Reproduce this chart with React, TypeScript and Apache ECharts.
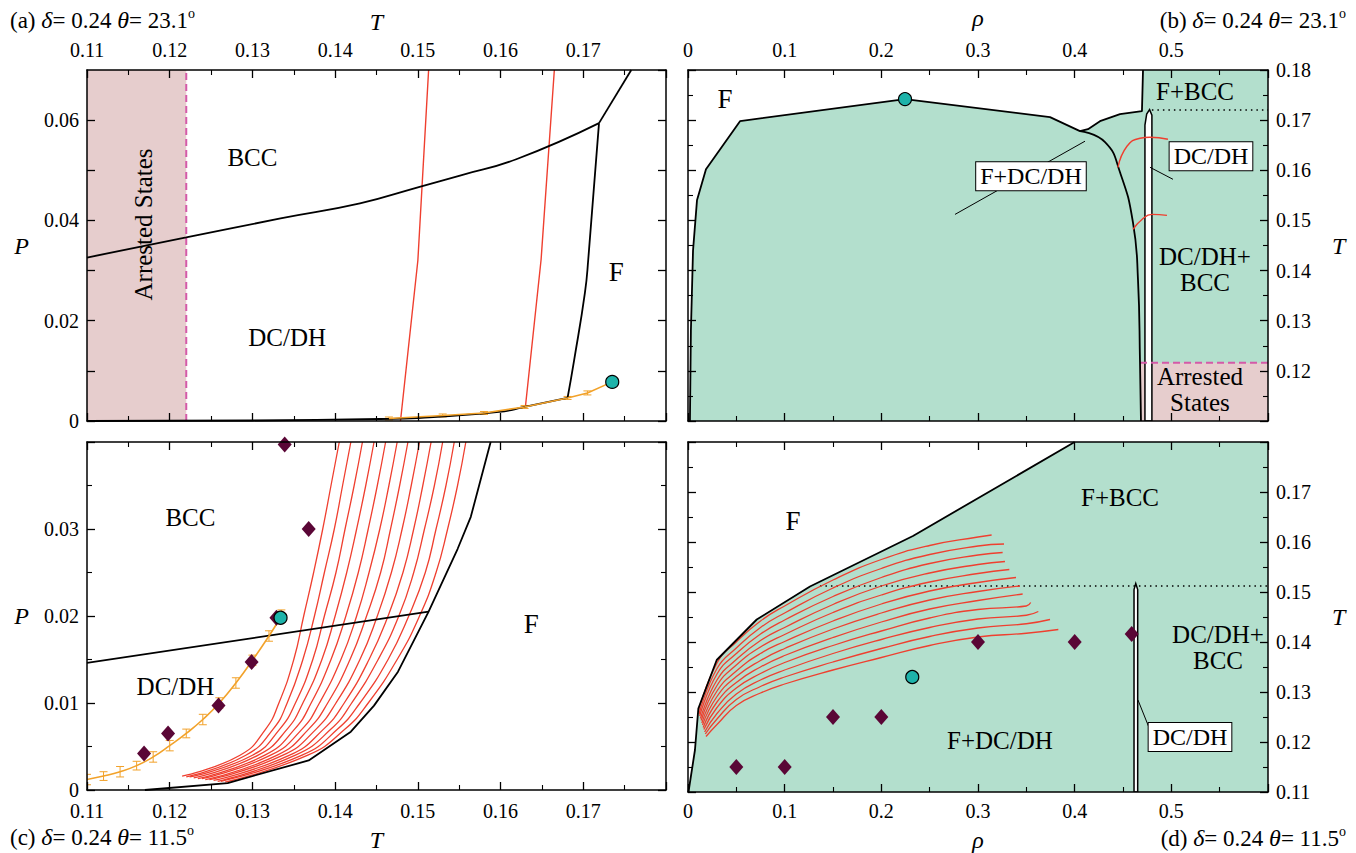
import React, { useEffect, useRef } from "react";
import * as echarts from "echarts";

const FONT = "'Liberation Serif','Times New Roman','DejaVu Serif',serif";
const GREEN = "#b3dfcd";
const PINK = "#e6cdcd";
const RED = "#ef3f2f";
const ORANGE = "#f2a22a";
const MAGENTA = "#d45aa8";
const DIAMOND = "#5a0636";
const CYAN = "#1db3aa";

// ---------- Panel (a): P vs T, theta = 23.1 ----------
const aArrestedT = 0.122;
const aBccLine = [[0.11, 0.0326], [0.122, 0.0366], [0.1334, 0.0404], [0.143, 0.0434], [0.15, 0.0466], [0.1552, 0.049], [0.1619, 0.0522], [0.1719, 0.0594]];
const aUpperLine = [[0.1719, 0.0594], [0.1758, 0.07]];
const aFluidLine = [[0.1719, 0.0594], [0.1706, 0.0322], [0.1702, 0.0256], [0.1689, 0.0122], [0.1681, 0.0046]];
const aBottomLine = [[0.11, 0], [0.13, 0.0001], [0.1455, 0.0004], [0.15, 0.0006], [0.1598, 0.0018], [0.1629, 0.0028], [0.1681, 0.0046]];
const aRed1 = [[0.1479, 0], [0.15, 0.032], [0.1513, 0.07]];
const aRed2 = [[0.163, 0.0028], [0.1649, 0.0322], [0.1665, 0.07]];
const aOrangeT = [0.1465, 0.153, 0.158, 0.1629, 0.1681, 0.1705, 0.1735];
const aOrangeP = [0.0005, 0.0011, 0.0016, 0.0028, 0.0046, 0.0056, 0.0078];
const aOrangeErr = [0.0003, 0.0003, 0.0003, 0.0003, 0.0003, 0.0004, 0];
const aCritical = [0.1735, 0.0078];

// ---------- Panel (b): T vs rho, theta = 23.1 ----------
const bOuter = [[0.002, 0.11], [0.003, 0.128], [0.0052, 0.144], [0.0093, 0.154], [0.0186, 0.1602], [0.0538, 0.1698], [0.2245, 0.1742], [0.3745, 0.1706], [0.4055, 0.1678], [0.4138, 0.1682], [0.4262, 0.1698], [0.4469, 0.1712], [0.4696, 0.1718], [0.4707, 0.18]];
const bInner = [[0.4055, 0.1678], [0.4314, 0.1656], [0.4469, 0.1596], [0.4603, 0.1496], [0.4655, 0.1382], [0.4676, 0.1216], [0.4686, 0.11]];
const bStrip = [[0.4727, 0.11], [0.4727, 0.169], [0.4745, 0.1712], [0.4775, 0.1721], [0.4799, 0.171], [0.4799, 0.11]];
const bArrestedT = 0.1216;
const bArrestedRho = 0.4676;
const bDottedT = 0.172;
const bDottedRho = 0.4799;
const bRed1 = [[0.4448, 0.1606], [0.4541, 0.1648], [0.4676, 0.1664], [0.4779, 0.1666], [0.4965, 0.1662]];
const bRed2 = [[0.4603, 0.1482], [0.4696, 0.1502], [0.48, 0.1512], [0.4955, 0.151]];
const bCritical = [0.2245, 0.1742];

// ---------- Panel (c): P vs T, theta = 11.5 ----------
const cBccLine = [[0.11, 0.0146], [0.1513, 0.0205]];
const cFluidLine = [[0.117, 0], [0.127, 0.0008], [0.1368, 0.0034], [0.1419, 0.0067], [0.1447, 0.0097], [0.1476, 0.0136], [0.1513, 0.0205], [0.1548, 0.0277], [0.1564, 0.0314], [0.1588, 0.04]];
const cRedStartT = [0.1215, 0.122, 0.1224, 0.1229, 0.1234, 0.1239, 0.1243, 0.1248, 0.1253, 0.1258, 0.1262, 0.1267];
const cRedStartP = [0.0016, 0.0015, 0.0015, 0.0014, 0.0013, 0.0013, 0.0012, 0.0012, 0.0011, 0.001, 0.001, 0.0009];
const cRedP = [0.004, 0.007, 0.01, 0.015, 0.02, 0.025, 0.03, 0.035, 0.04];
const cRedT = [
  [0.1285, 0.1316, 0.1332, 0.135, 0.1362, 0.1374, 0.1385, 0.1395, 0.1405],
  [0.1292, 0.1325, 0.1342, 0.1361, 0.1375, 0.1387, 0.1399, 0.1409, 0.1419],
  [0.13, 0.1333, 0.1352, 0.1373, 0.1387, 0.1401, 0.1412, 0.1423, 0.1433],
  [0.1307, 0.1342, 0.1361, 0.1384, 0.14, 0.1414, 0.1426, 0.1437, 0.1447],
  [0.1315, 0.1351, 0.1371, 0.1395, 0.1413, 0.1428, 0.144, 0.1451, 0.1461],
  [0.1322, 0.136, 0.1381, 0.1407, 0.1426, 0.1441, 0.1454, 0.1465, 0.1475],
  [0.133, 0.1368, 0.1391, 0.1418, 0.1438, 0.1455, 0.1467, 0.1478, 0.1488],
  [0.1337, 0.1377, 0.1401, 0.143, 0.1451, 0.1468, 0.1481, 0.1492, 0.1502],
  [0.1345, 0.1386, 0.1411, 0.1441, 0.1464, 0.1482, 0.1495, 0.1506, 0.1516],
  [0.1352, 0.1395, 0.142, 0.1452, 0.1477, 0.1495, 0.1508, 0.152, 0.153],
  [0.136, 0.1403, 0.143, 0.1464, 0.1489, 0.1509, 0.1522, 0.1534, 0.1544],
  [0.1367, 0.1412, 0.144, 0.1475, 0.1502, 0.1522, 0.1536, 0.1548, 0.1558],
];
const cOrangeT = [0.11, 0.112, 0.114, 0.116, 0.118, 0.12, 0.122, 0.124, 0.126, 0.128, 0.13, 0.132, 0.1335];
const cOrangeP = [0.0012, 0.0016, 0.0021, 0.0028, 0.0038, 0.0051, 0.0065, 0.0081, 0.01, 0.0123, 0.0149, 0.0177, 0.02];
const cOrangeErr = [0.0006, 0.0005, 0.0006, 0.0005, 0.0006, 0.0006, 0.0005, 0.0006, 0.0006, 0.0006, 0.0006, 0.0006, 0.0007];
const cDiamonds = [[0.1169, 0.0042], [0.1198, 0.0065], [0.1259, 0.0097], [0.1299, 0.0147], [0.1329, 0.0198], [0.1368, 0.03], [0.1339, 0.0397]];
const cCritical = [0.1334, 0.0198];

// ---------- Panel (d): T vs rho, theta = 11.5 ----------
const dOuter = [[0.0005, 0.11], [0.0072, 0.1184], [0.0107, 0.1267], [0.0297, 0.1364], [0.0711, 0.1445], [0.1262, 0.1511], [0.2327, 0.1612], [0.4, 0.18]];
const dStrip = [[0.4614, 0.11], [0.4614, 0.1505], [0.4632, 0.1517], [0.4652, 0.1505], [0.4652, 0.11]];
const dDottedT = 0.1512;
const dDottedRho = 0.1365;
const dRedStart = [[0.0107, 0.1261], [0.0114, 0.1256], [0.0121, 0.1252], [0.0129, 0.1247], [0.0136, 0.1243], [0.0143, 0.1238], [0.015, 0.1234], [0.0157, 0.1229], [0.0164, 0.1225], [0.0172, 0.122], [0.0179, 0.1216], [0.0186, 0.1211]];
const dRedRho = [0.03, 0.05, 0.075, 0.1, 0.15, 0.2, 0.25, 0.3];
const dRedT = [
  [0.1358, 0.14, 0.1442, 0.1472, 0.1524, 0.1565, 0.1593, 0.161],
  [0.1347, 0.1388, 0.1429, 0.1458, 0.1508, 0.1547, 0.1575, 0.1592],
  [0.1336, 0.1377, 0.1416, 0.1444, 0.1491, 0.1529, 0.1557, 0.1574],
  [0.1324, 0.1365, 0.1403, 0.1429, 0.1475, 0.1512, 0.1538, 0.1555],
  [0.1313, 0.1354, 0.139, 0.1415, 0.1459, 0.1494, 0.152, 0.1537],
  [0.1302, 0.1342, 0.1377, 0.1401, 0.1442, 0.1476, 0.1502, 0.1519],
  [0.1291, 0.1331, 0.1363, 0.1387, 0.1426, 0.1458, 0.1484, 0.1501],
  [0.128, 0.1319, 0.135, 0.1373, 0.1409, 0.144, 0.1466, 0.1483],
  [0.1269, 0.1308, 0.1337, 0.1359, 0.1393, 0.1422, 0.1448, 0.1465],
  [0.1257, 0.1296, 0.1324, 0.1344, 0.1377, 0.1405, 0.1429, 0.1446],
  [0.1246, 0.1285, 0.1311, 0.133, 0.136, 0.1387, 0.1411, 0.1428],
  [0.1235, 0.1273, 0.1298, 0.1316, 0.1344, 0.1369, 0.1393, 0.141],
];
const dRedEnd = [[0.3141, 0.1614], [0.3269, 0.1596], [0.3255, 0.1579], [0.3279, 0.1561], [0.3324, 0.1545], [0.3393, 0.1529], [0.3434, 0.1512], [0.3462, 0.1496], [0.3545, 0.1479], [0.3624, 0.1461], [0.3745, 0.1445], [0.3831, 0.1425]];
const dDiamonds = [[0.05, 0.115], [0.1, 0.115], [0.15, 0.125], [0.2, 0.125], [0.3, 0.14], [0.4, 0.14], [0.459, 0.1416]];
const dCritical = [0.232, 0.133];

// ---------- helpers ----------
type Pt = number[];
const P = { a: [0, 0], b: [2, 2], c: [4, 4], d: [6, 6] } as const;

function fmt(v: number) {
  if (Math.abs(v) < 1e-9) return "0";
  return String(+v.toFixed(3));
}

function axisBase(grid: number, pos: string, min: number, max: number, interval: number, labels: boolean, minor: boolean, extra: any = {}) {
  return {
    type: "value", gridIndex: grid, position: pos, min, max, interval, z: 10,
    axisLine: { show: true, onZero: false, lineStyle: { color: "#000", width: 1.5 } },
    axisTick: { show: true, inside: true, length: 8, lineStyle: { color: "#000", width: 1.3 } },
    minorTick: { show: minor, splitNumber: 2, length: 5, lineStyle: { color: "#000", width: 1.1 } },
    splitLine: { show: false }, minorSplitLine: { show: false },
    axisLabel: { show: labels, color: "#000", fontFamily: FONT, fontSize: 20, margin: 8, formatter: fmt, ...(extra.axisLabel || {}) },
    nameTextStyle: { fontFamily: FONT, fontStyle: "italic", fontSize: 24, color: "#000" },
    nameLocation: "middle",
    ...extra.rest,
  };
}

function lineS(data: Pt[], p: readonly number[], color: string, width: number, z = 4, type: any = "solid", smooth = false) {
  return { type: "line", xAxisIndex: p[0], yAxisIndex: p[1], data, symbol: "none", showSymbol: false, smooth, lineStyle: { color, width, type }, z, silent: true, clip: true, animation: false };
}

function polyS(pts: Pt[], p: readonly number[], style: any, z: number) {
  return {
    type: "custom", xAxisIndex: p[0], yAxisIndex: p[1], z, silent: true, clip: true,
    data: [[pts[0][0], pts[0][1]]],
    renderItem: (_params: any, api: any) => ({ type: "polygon", shape: { points: pts.map((q) => api.coord(q)) }, style }),
  };
}

function errS(ts: number[], ps: number[], es: number[], p: readonly number[]) {
  return {
    type: "custom", xAxisIndex: p[0], yAxisIndex: p[1], z: 5, silent: true, clip: true,
    data: ts.map((t, i) => [t, ps[i], es[i]]),
    renderItem: (_params: any, api: any) => {
      const x = api.value(0), y = api.value(1), e = api.value(2);
      if (!e) return null;
      const hi = api.coord([x, y + e]);
      const lo = api.coord([x, y - e]);
      const w = 4;
      const st = { stroke: ORANGE, lineWidth: 1 };
      return {
        type: "group", children: [
          { type: "line", shape: { x1: hi[0], y1: hi[1], x2: lo[0], y2: lo[1] }, style: st },
          { type: "line", shape: { x1: hi[0] - w, y1: hi[1], x2: hi[0] + w, y2: hi[1] }, style: st },
          { type: "line", shape: { x1: lo[0] - w, y1: lo[1], x2: lo[0] + w, y2: lo[1] }, style: st },
        ],
      };
    },
  };
}

function markS(data: Pt[], p: readonly number[], kind: "diamond" | "critical") {
  return {
    type: "scatter", xAxisIndex: p[0], yAxisIndex: p[1], data, z: 6, silent: true, clip: false,
    symbol: kind === "diamond" ? "diamond" : "circle",
    symbolSize: kind === "diamond" ? [14, 16] : 13,
    itemStyle: kind === "diamond" ? { color: DIAMOND, opacity: 1 } : { color: CYAN, borderColor: "#000", borderWidth: 1.2, opacity: 1 },
  };
}

function textS(x: number, y: number, text: string, p: readonly number[], extra: any = {}) {
  return {
    type: "scatter", xAxisIndex: p[0], yAxisIndex: p[1], data: [[x, y]], z: 8, silent: true, clip: false,
    symbol: "circle", symbolSize: 1, itemStyle: { color: "rgba(0,0,0,0)", opacity: 1 },
    label: { show: true, position: "inside", formatter: text, color: "#000", opacity: 1, fontFamily: FONT, fontSize: 25, lineHeight: 26, ...extra },
  };
}

const boxed = { backgroundColor: "#fff", borderColor: "#000", borderWidth: 1, padding: [2, 4, 0, 4], fontSize: 24 };

function title(tag: string, theta: string, pos: any) {
  return {
    ...pos,
    padding: 0,
    text: `{n|(${tag}) }{i|δ}{n|= 0.24 }{i|θ}{n|= ${theta}}{s|o}`,
    textStyle: {
      fontFamily: FONT, fontSize: 23, fontWeight: "normal", color: "#000",
      rich: {
        n: { fontFamily: FONT, fontSize: 23, color: "#000", lineHeight: 28 },
        i: { fontFamily: FONT, fontSize: 24, fontStyle: "italic", color: "#000", lineHeight: 28 },
        s: { fontFamily: FONT, fontSize: 14, color: "#000", verticalAlign: "top", lineHeight: 14 },
      },
    },
  };
}

function buildOption() {
  const series: any[] = [];

  // ----- (a) -----
  series.push(polyS([[0.11, 0], [aArrestedT, 0], [aArrestedT, 0.07], [0.11, 0.07]], P.a, { fill: PINK }, 1));
  series.push(lineS([[aArrestedT, 0], [aArrestedT, 0.07]], P.a, MAGENTA, 2, 4, [7, 4]));
  series.push(lineS(aRed1, P.a, RED, 1.4));
  series.push(lineS(aRed2, P.a, RED, 1.4));
  series.push(lineS(aBccLine, P.a, "#000", 1.8, 5, "solid", true));
  series.push(lineS(aUpperLine, P.a, "#000", 1.8, 5));
  series.push(lineS(aFluidLine, P.a, "#000", 1.8, 5, "solid", true));
  series.push(lineS(aBottomLine, P.a, "#000", 1.8, 5, "solid", true));
  series.push(lineS(aOrangeT.map((t, i) => [t, aOrangeP[i]]), P.a, ORANGE, 1.6, 5));
  series.push(errS(aOrangeT, aOrangeP, aOrangeErr, P.a));
  series.push(markS([aCritical], P.a, "critical"));
  series.push(textS(0.13, 0.0526, "BCC", P.a));
  series.push(textS(0.1342, 0.0166, "DC/DH", P.a));
  series.push(textS(0.174, 0.0298, "F", P.a, { fontSize: 27 }));
  series.push(textS(0.1168, 0.0392, "Arrested States", P.a, { rotate: 90 }));

  // ----- (b) -----
  series.push(polyS([...bOuter, [0.6, 0.18], [0.6, 0.11]], P.b, { fill: GREEN }, 1));
  series.push(polyS([[bArrestedRho, 0.11], [bArrestedRho, bArrestedT], [0.6, bArrestedT], [0.6, 0.11]], P.b, { fill: PINK }, 2));
  series.push(polyS(bStrip, P.b, { fill: "#fff", stroke: "#000", lineWidth: 1.5 }, 3));
  series.push(lineS([[bArrestedRho, bArrestedT], [0.6, bArrestedT]], P.b, MAGENTA, 2, 4, [7, 4]));
  series.push(lineS([[bDottedRho, bDottedT], [0.6, bDottedT]], P.b, "#000", 1.5, 4, [1.5, 4]));
  series.push(lineS(bOuter, P.b, "#000", 1.8, 5));
  series.push(lineS(bInner, P.b, "#000", 1.8, 5, "solid", true));
  series.push(lineS(bRed1, P.b, RED, 1.4, 5, "solid", true));
  series.push(lineS(bRed2, P.b, RED, 1.4, 5, "solid", true));
  series.push(lineS([[0.2762, 0.1512], [0.4107, 0.1658]], P.b, "#000", 1, 6));
  series.push(lineS([[0.4779, 0.1606], [0.5017, 0.1582]], P.b, "#000", 1, 6));
  series.push(markS([bCritical], P.b, "critical"));
  series.push(textS(0.0383, 0.1742, "F", P.b, { fontSize: 27 }));
  series.push(textS(0.5245, 0.1758, "F+BCC", P.b));
  series.push(textS(0.3548, 0.1588, "F+DC/DH", P.b, boxed));
  series.push(textS(0.541, 0.1628, "DC/DH", P.b, boxed));
  series.push(textS(0.5348, 0.1403, "DC/DH+\nBCC", P.b));
  series.push(textS(0.5296, 0.1162, "Arrested\nStates", P.b));

  // ----- (c) -----
  cRedT.forEach((row, i) => {
    const pts = [[cRedStartT[i], cRedStartP[i]], ...row.map((t, k) => [t, cRedP[k]])];
    series.push(lineS(pts, P.c, RED, 1.3, 4, "solid", true));
  });
  series.push(lineS(cBccLine, P.c, "#000", 1.8, 5));
  series.push(lineS(cFluidLine, P.c, "#000", 1.8, 5));
  series.push(lineS(cOrangeT.map((t, i) => [t, cOrangeP[i]]), P.c, ORANGE, 1.6, 5, "solid", true));
  series.push(errS(cOrangeT, cOrangeP, cOrangeErr, P.c));
  series.push(markS(cDiamonds, P.c, "diamond"));
  series.push(markS([cCritical], P.c, "critical"));
  series.push(textS(0.1225, 0.0313, "BCC", P.c));
  series.push(textS(0.1207, 0.0119, "DC/DH", P.c));
  series.push(textS(0.1637, 0.0191, "F", P.c, { fontSize: 27 }));

  // ----- (d) -----
  series.push(polyS([...dOuter, [0.6, 0.18], [0.6, 0.11]], P.d, { fill: GREEN }, 1));
  series.push(polyS(dStrip, P.d, { fill: "#fff", stroke: "#000", lineWidth: 1.5 }, 3));
  series.push(lineS([[dDottedRho, dDottedT], [0.6, dDottedT]], P.d, "#000", 1.5, 4, [1.5, 4]));
  dRedT.forEach((row, i) => {
    const pts: Pt[] = [dRedStart[i], ...row.map((t, k) => [dRedRho[k], t])];
    if (dRedEnd[i][0] > 0.35) pts.push([0.35, (row[row.length - 1] + dRedEnd[i][1]) / 2]);
    pts.push(dRedEnd[i]);
    series.push(lineS(pts, P.d, RED, 1.3, 4, "solid", true));
  });
  series.push(lineS(dOuter, P.d, "#000", 1.8, 5));
  series.push(lineS([[0.4655, 0.1284], [0.48, 0.1214]], P.d, "#000", 1, 6));
  series.push(markS(dDiamonds, P.d, "diamond"));
  series.push(markS([dCritical], P.d, "critical"));
  series.push(textS(0.1086, 0.1642, "F", P.d, { fontSize: 27 }));
  series.push(textS(0.4469, 0.169, "F+BCC", P.d));
  series.push(textS(0.3227, 0.1204, "F+DC/DH", P.d));
  series.push(textS(0.5483, 0.139, "DC/DH+\nBCC", P.d));
  series.push(textS(0.5193, 0.121, "DC/DH", P.d, boxed));

  const evenOnly = (v: number) => (Math.round(v * 100) % 2 === 0 ? fmt(v) : "");

  const xAxis = [
    axisBase(0, "top", 0.11, 0.18, 0.01, true, true, { axisLabel: { showMaxLabel: false, margin: 10 }, rest: { name: "T", nameGap: 36 } }),
    axisBase(0, "bottom", 0.11, 0.18, 0.01, false, true),
    axisBase(1, "top", 0, 0.6, 0.1, true, true, { axisLabel: { showMaxLabel: false, margin: 10 }, rest: { name: "ρ", nameGap: 40 } }),
    axisBase(1, "bottom", 0, 0.6, 0.1, false, true),
    axisBase(2, "bottom", 0.11, 0.18, 0.01, true, true, { axisLabel: { showMaxLabel: false, margin: 11 }, rest: { name: "T", nameGap: 38 } }),
    axisBase(2, "top", 0.11, 0.18, 0.01, false, true),
    axisBase(3, "bottom", 0, 0.6, 0.1, true, true, { axisLabel: { showMaxLabel: false, margin: 9 }, rest: { name: "ρ", nameGap: 36 } }),
    axisBase(3, "top", 0, 0.6, 0.1, false, true),
  ];
  const yAxis = [
    axisBase(0, "left", 0, 0.07, 0.01, true, false, { axisLabel: { showMaxLabel: false, formatter: evenOnly }, rest: { name: "P", nameGap: 58, nameRotate: 0 } }),
    axisBase(0, "right", 0, 0.07, 0.01, false, false),
    axisBase(1, "right", 0.11, 0.18, 0.01, true, true, { axisLabel: { showMinLabel: false }, rest: { name: "T", nameGap: 64, nameRotate: 0 } }),
    axisBase(1, "left", 0.11, 0.18, 0.01, false, true),
    axisBase(2, "left", 0, 0.04, 0.01, true, true, { axisLabel: { showMaxLabel: false }, rest: { name: "P", nameGap: 58, nameRotate: 0 } }),
    axisBase(2, "right", 0, 0.04, 0.01, false, true),
    axisBase(3, "right", 0.11, 0.18, 0.01, true, true, { axisLabel: { showMaxLabel: false }, rest: { name: "T", nameGap: 64, nameRotate: 0 } }),
    axisBase(3, "left", 0.11, 0.18, 0.01, false, true),
  ];

  return {
    animation: false,
    backgroundColor: "#fff",
    title: [
      title("a", "23.1", { left: 10, top: 6 }),
      title("b", "23.1", { right: 10, top: 6 }),
      title("c", "11.5", { left: 10, top: 823 }),
      title("d", "11.5", { right: 10, top: 824 }),
    ],
    grid: [
      { left: 87, top: 70, width: 579, height: 351 },
      { left: 688, top: 70, width: 580, height: 351 },
      { left: 87, top: 442, width: 579, height: 350 },
      { left: 688, top: 442, width: 580, height: 350 },
    ],
    xAxis,
    yAxis,
    series,
  };
}

export default function App() {
  const ref = useRef<HTMLDivElement>(null);
  useEffect(() => {
    if (!ref.current) return;
    const chart = echarts.init(ref.current, null, { renderer: "svg" });
    chart.setOption(buildOption() as any);
    return () => chart.dispose();
  }, []);
  return <div ref={ref} style={{ position: "fixed", left: 0, top: 0, width: 1356, height: 853, background: "#fff" }} />;
}
